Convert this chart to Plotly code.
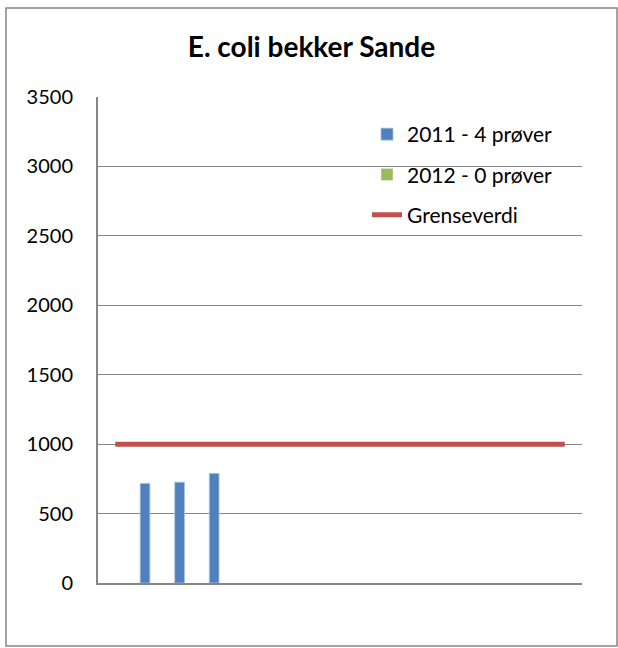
import plotly.graph_objects as go

categories = [str(i) for i in range(1, 15)]
values_2011 = [None, 717, 726, 789, None, None, None, None, None, None, None, None, None, None]
values_2012 = [None] * 14
grenseverdi = [1000] * 14
y_ticks = [0, 500, 1000, 1500, 2000, 2500, 3000, 3500]

W, H = 618, 648
L, R, T, B = 98, 36, 97, 65
pw, ph = W - L - R, H - T - B

FONT = "Lato, Open Sans, sans-serif"

fig = go.Figure()
fig.add_trace(go.Bar(x=categories, y=values_2011, name="2011 - 4 prøver",
                     marker=dict(color="#4F81BD", line=dict(color="#A7C0DE", width=0.8)),
                     legendgroup="a"))
fig.add_trace(go.Bar(x=categories, y=values_2012, name="2012 - 0 prøver",
                     marker=dict(color="#9BBB59"), legendgroup="b"))
fig.add_trace(go.Scatter(x=categories, y=grenseverdi, name="Grenseverdi", mode="lines",
                         line=dict(color="#C0504D", width=5), legendgroup="c"))

def px_x(x):
    return (x - L) / pw

def px_y(y):
    return 1 - (y - T) / ph

fig.update_layout(
    width=W, height=H,
    margin=dict(l=L, r=R, t=T, b=B),
    paper_bgcolor="white", plot_bgcolor="white",
    font=dict(family=FONT, size=20, color="black"),
    title=dict(text="<b>E. coli bekker Sande</b>", x=(311.5) / W, xref="container", xanchor="center",
               y=1 - 47 / H, yref="container", yanchor="middle", font=dict(size=28, family=FONT)),
    barmode="group", bargap=0.44, bargroupgap=0,
    showlegend=True,
    legend=dict(x=px_x(367), y=px_y(114), xanchor="left", yanchor="top",
                bgcolor="rgba(0,0,0,0)", tracegroupgap=10,
                font=dict(size=21, family=FONT)),
    xaxis=dict(type="category", showticklabels=False, showgrid=False, ticks="",
               showline=True, linecolor="#868686", linewidth=2, zeroline=False,
               range=[-0.5, 13.5]),
    yaxis=dict(range=[0, 3500], tickvals=y_ticks, showgrid=True, gridcolor="#868686",
               gridwidth=1, showline=True, linecolor="#868686", linewidth=2,
               zeroline=False, ticks="", ticklabelstandoff=19,
               tickfont=dict(size=20, family=FONT)),
    shapes=[dict(type="rect", xref="paper", yref="paper",
                 x0=px_x(6), x1=px_x(617), y0=px_y(646), y1=px_y(8),
                 line=dict(color="#868686", width=1.5), fillcolor="rgba(0,0,0,0)", layer="below")],
)

fig.write_html("out.html", config={"displayModeBar": False},
               post_script="document.body.style.margin='0';document.body.style.overflow='hidden';")
